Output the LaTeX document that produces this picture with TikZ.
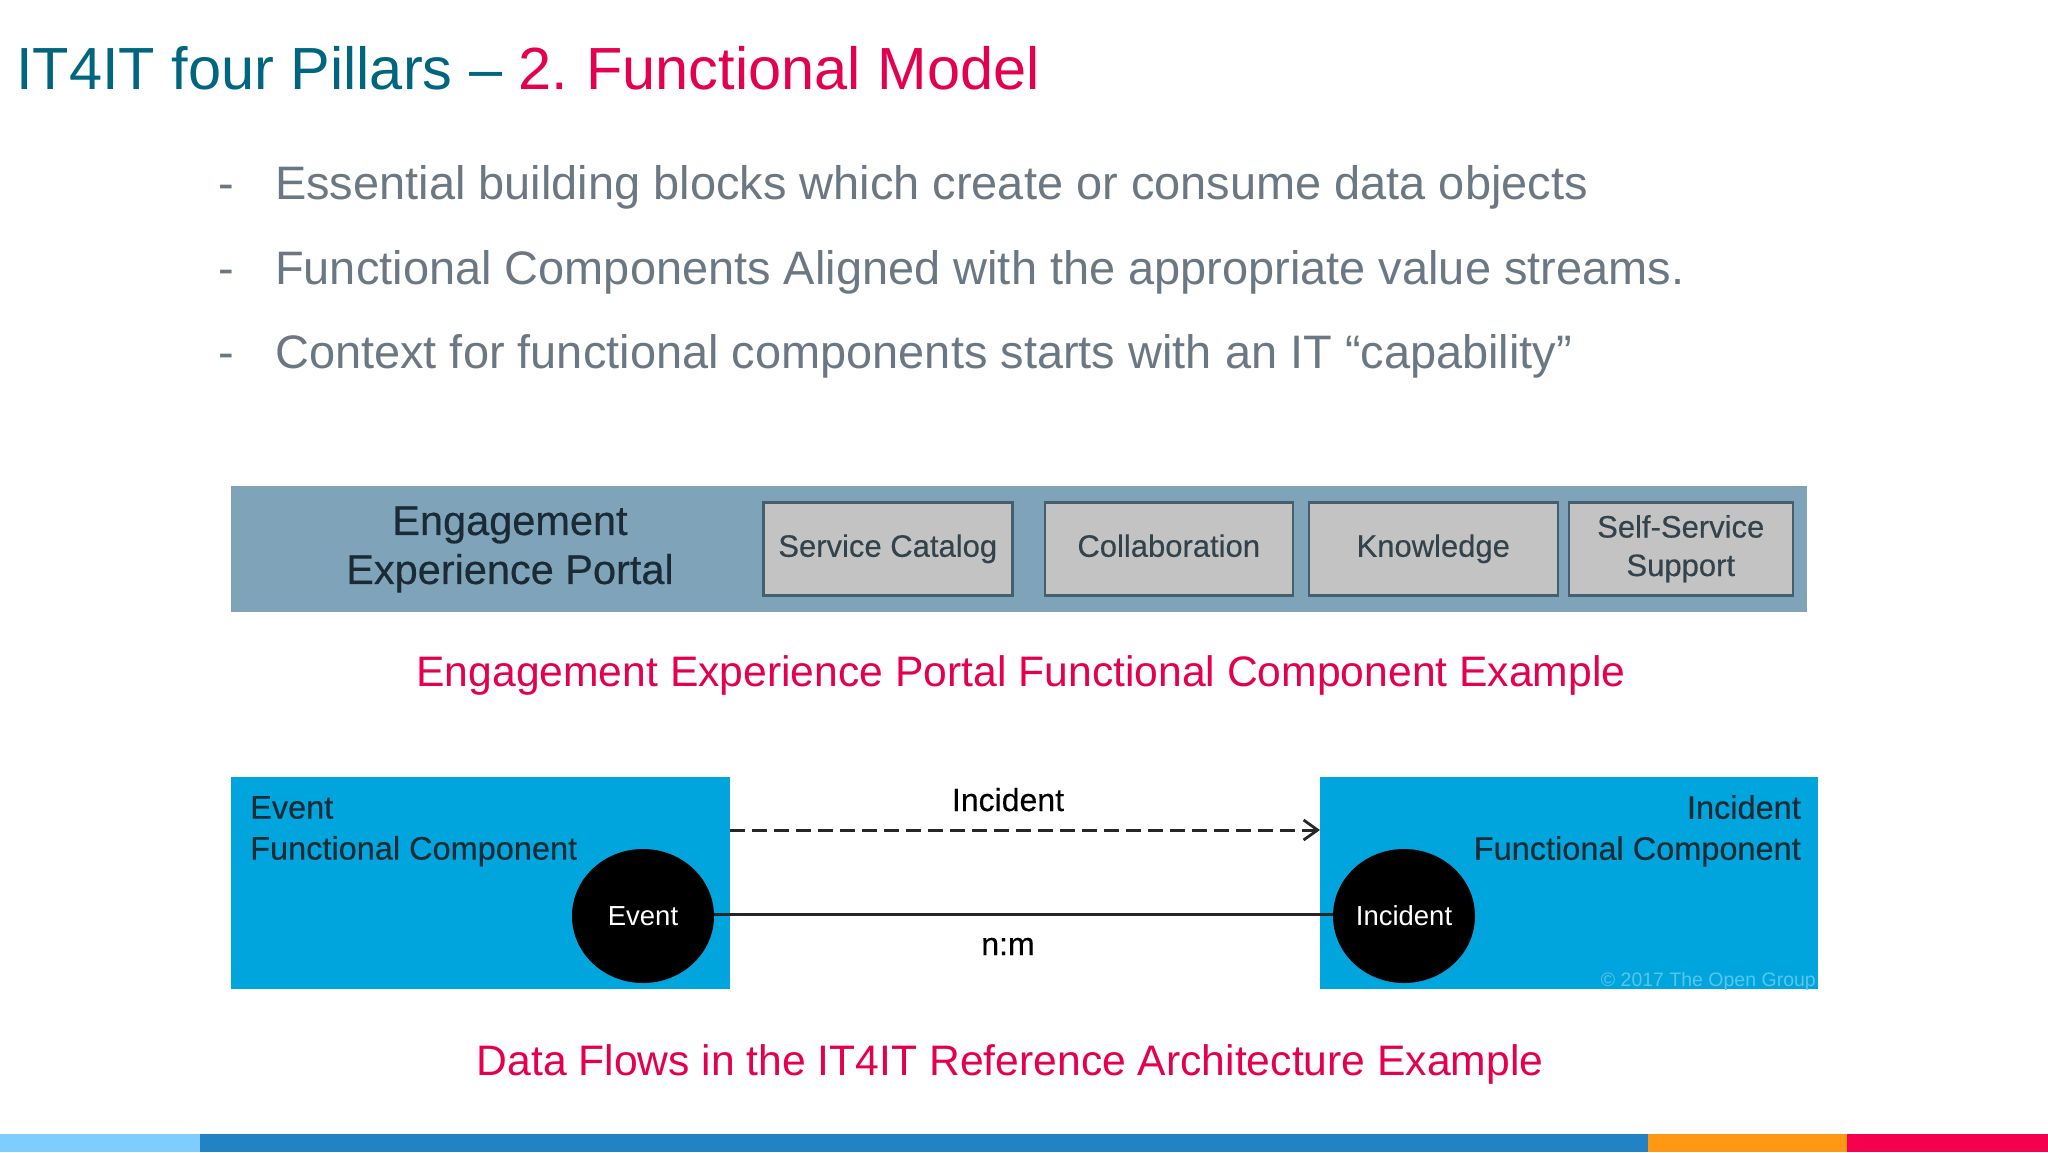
\documentclass[tikz,border=0pt]{standalone}
\usepackage{fontspec}
\setmainfont{Liberation Sans}
\newfontfamily\heavyish[FakeBold=0.35]{Liberation Sans}
\usetikzlibrary{arrows.meta,shapes.geometric}
\definecolor{teal}{HTML}{00667F}
\definecolor{crim}{HTML}{E5004F}
\definecolor{slategr}{HTML}{6B7883}
\definecolor{barblue}{HTML}{7FA3B9}
\definecolor{boxgray}{HTML}{C3C3C3}
\definecolor{boxedge}{HTML}{44606F}
\definecolor{fcblue}{HTML}{00A5DE}
\definecolor{inktext}{HTML}{1A2B36}
\definecolor{bandsky}{RGB}{127,204,255}
\definecolor{bandblue}{RGB}{33,131,196}
\definecolor{bandorange}{RGB}{255,153,20}
\definecolor{bandred}{RGB}{245,0,80}
\tikzset{
  bullet/.style={anchor=base west,inner sep=0,text=slategr,font=\fontsize{46.95}{47}\selectfont},
  caption/.style={anchor=base,inner sep=0,text=crim,font=\fontsize{42.65}{43}\selectfont},
  capbox/.style={draw=boxedge,line width=2.5pt,fill=boxgray,anchor=north west,inner sep=0,text=inktext!85!boxgray,align=center,font=\heavyish\fontsize{31}{38.5}\selectfont},
  fcbox/.style={fill=fcblue,anchor=north west,inner sep=0},
  fclabel/.style={inner sep=0,text=inktext,font=\heavyish\fontsize{32.5}{41}\selectfont},
  dataobj/.style={ellipse,fill=black,inner sep=0,minimum width=142pt,minimum height=134pt,text=white,font=\fontsize{27.5}{27.5}\selectfont},
  flowlabel/.style={inner sep=0,anchor=base,text=black,font=\heavyish\fontsize{32}{32}\selectfont}
}
\begin{document}
\begin{tikzpicture}[x=1pt,y=-1pt]
\useasboundingbox (0,0) rectangle (2048,1152);
\fill[white] (0,0) rectangle (2048,1152);
% title
\node[anchor=base west,inner sep=0,font=\fontsize{59.5}{59.5}\selectfont] (title) at (16,89) {\textcolor{teal}{IT4IT four Pillars – }\textcolor{crim}{2.\kern-4pt{} Functional Model}};
% bullets
\node[bullet] (d1) at (218,199) {-};
\node[bullet] (b1) at (275,199) {Essential building blocks which create or consume data objects};
\node[bullet] (d2) at (218,284) {-};
\node[bullet] (b2) at (275,284) {Functional Components Aligned with the appropriate value streams.};
\node[bullet] (d3) at (218,368) {-};
\node[bullet] (b3) at (275,368) {Context for functional components starts with an IT “capability”};
% portal bar
\node[fill=barblue,anchor=north west,inner sep=0,minimum width=1576pt,minimum height=126pt] (bar) at (231,486) {};
\node[inner sep=0,align=center,text=inktext,font=\heavyish\fontsize{41.5}{49}\selectfont] (portal) at (510,549.5) {Engagement\\Experience Portal};
\node[capbox,minimum width=249pt,minimum height=93pt] (sc) at (762,501) {Service Catalog};
\node[capbox,minimum width=248pt,minimum height=93pt] (co) at (1043.5,501) {\vphantom{g}Collaboration};
\node[capbox,minimum width=249pt,minimum height=93pt] (kn) at (1307.5,501) {Knowledge};
\node[capbox,minimum width=224pt,minimum height=93pt] (ss) at (1567.5,501) {Self-Service\\Support};
\node[caption] (cap1) at (1021,686) {Engagement Experience Portal Functional Component Example};
% data flow
\node[fcbox,minimum width=499pt,minimum height=212pt] (lbox) at (231,777) {};
\node[fcbox,minimum width=498pt,minimum height=212pt] (rbox) at (1320,777) {};
\node[fclabel,anchor=north west,align=left] (lt) at (250,796) {Event\\Functional Component};
\node[fclabel,anchor=north east,align=right] (rt) at (1801,795) {Incident\\\vphantom{I}Functional Component};
\node[dataobj] (ev) at (643,916) {Event};
\node[dataobj] (inc) at (1404,916) {Incident};
\coordinate (ds) at (730,830);
\coordinate (de) at (1320,830);
\draw[line width=3pt,dash pattern=on 15pt off 7pt,-{Straight Barb[length=14pt,width=20pt,line width=2.8pt]},draw=black!85] (ds) -- (de);
\draw[line width=3pt,draw=black!85] ([yshift=2pt]ev.east) -- ([yshift=2pt]inc.west);
\node[flowlabel] (fl) at (1008,811) {Incident};
\node[flowlabel] (nm) at (1008,955) {n:m};
\node[inner sep=0,anchor=east,text=white!35!fcblue,font=\fontsize{19.5}{19.5}\selectfont] (copy) at (1816,981) {© 2017 The Open Group};
\node[caption] (cap2) at (1010,1075) {Data Flows in the IT4IT Reference Architecture Example};
% bottom band
\fill[bandsky] (0,1134) rectangle (200,1152);
\fill[bandblue] (200,1134) rectangle (1648,1152);
\fill[bandorange] (1648,1134) rectangle (1847,1152);
\fill[bandred] (1847,1134) rectangle (2048,1152);
\end{tikzpicture}
\end{document}
